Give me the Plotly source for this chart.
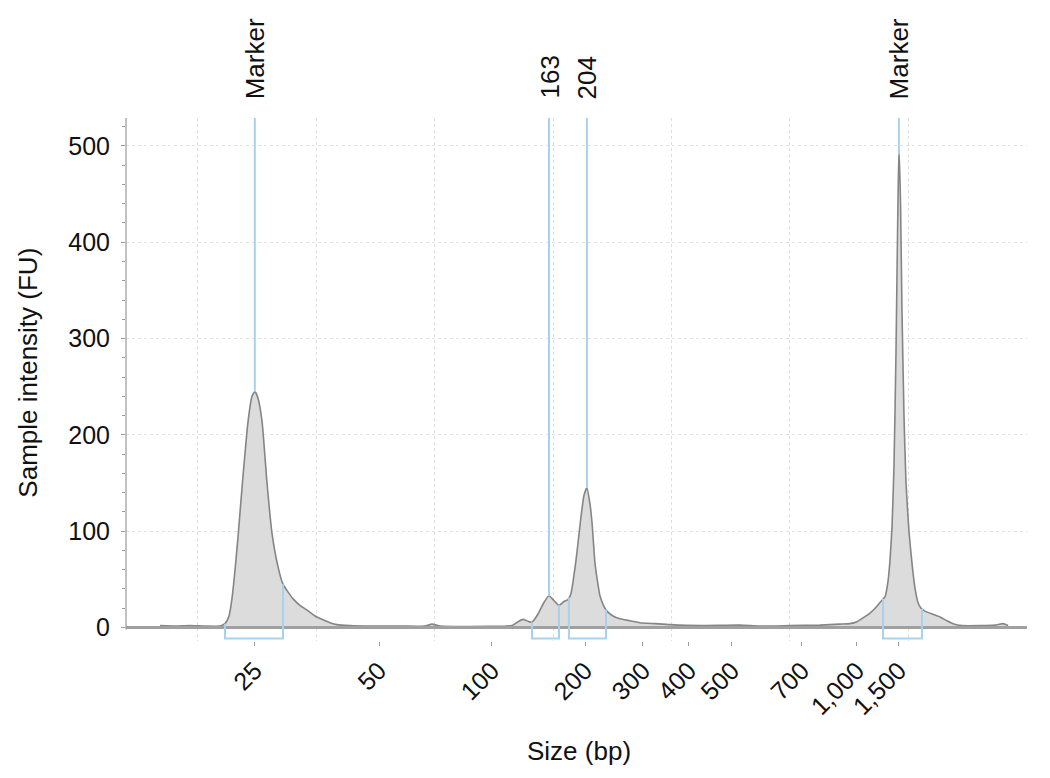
import numpy as np
import plotly.graph_objects as go

# electropherogram trace: migration time (s) vs sample intensity (FU)
mig_time = [6.79, 8.06, 9.32, 10.59, 11.86, 12.28, 12.62, 12.87, 13.13, 13.38,
            13.80, 14.22, 14.56, 14.81, 15.07, 15.41, 15.83, 16.25, 16.76, 17.18,
            17.60, 18.02, 18.61, 19.21, 19.88, 20.56, 21.15, 21.74, 22.84, 24.53,
            27.06, 29.17, 29.76, 30.44, 32.97, 35.93, 36.52, 37.03, 37.45, 37.87,
            38.21, 38.72, 39.22, 39.65, 40.07, 40.49, 40.91, 41.25, 41.50, 41.67,
            41.93, 42.10, 42.35, 42.60, 42.85, 43.11, 43.28, 43.53, 43.78, 43.95,
            44.29, 44.54, 45.05, 45.64, 46.49, 47.33, 48.60, 49.87, 52.40, 55.78,
            57.47, 60.00, 62.53, 64.22, 65.07, 65.66, 66.17, 66.76, 67.27, 67.60,
            68.03, 68.28, 68.45, 68.62, 68.79, 68.96, 69.13, 69.21, 69.34, 69.46,
            69.63, 69.80, 70.05, 70.32, 70.57, 70.81, 71.07, 71.40, 71.99, 72.67,
            73.26, 73.77, 74.53, 76.05, 77.32, 78.00, 78.42]
intensity = [2, 1.5, 2, 1.5, 1.5, 4, 12, 30, 60, 94,
             157, 213, 240, 245, 238, 214, 150, 98, 63, 45,
             37, 30, 23, 18, 12, 8, 5, 3, 2, 1.5,
             1.5, 1.5, 3.5, 1.5, 1, 1.5, 2, 6, 8.5, 6.5,
             5.5, 14, 26, 33, 28, 23, 27, 29, 35, 47,
             70, 88, 115, 137, 145, 128, 109, 67, 45, 33,
             22, 17, 12, 9, 7, 5, 4, 3, 2, 2.5,
             1.5, 2, 2.5, 3.5, 4, 6, 10, 15, 21, 26,
             32, 48, 70, 105, 170, 290, 450, 497, 440, 330,
             220, 150, 100, 65, 40, 26, 20, 17, 14, 11,
             7, 4, 2, 2, 2.5, 4, 2]

# size ladder (bp) and its migration times
ladder_size = ['25', '50', '100', '200', '300', '400', '500', '700', '1,000', '1,500']
ladder_time = [14.8, 25.29, 34.83, 42.69, 47.58, 51.47, 55.10, 61.01, 65.66, 69.2]

# called peaks
peak_label = ['Marker', '163', '204', 'Marker']
peak_time = [14.8, 39.65, 42.85, 69.2]
peak_start = [12.28, 38.21, 41.33, 67.86]
peak_end = [17.18, 40.49, 44.46, 71.15]

x_range = [3.92, 80.02]
y_range = [-14, 529]
bracket_floor = -11.4

blue = '#a9d1ec'
font = 'Liberation Sans, Arial, Helvetica, sans-serif'

fig = go.Figure()
fig.add_trace(go.Scatter(
    x=mig_time, y=intensity, mode='lines', fill='tozeroy',
    fillcolor='#dcdcdc', line=dict(color='#858585', width=1.6, shape='spline', smoothing=0.5),
    hoverinfo='skip', showlegend=False))

shapes = []
# baseline
shapes.append(dict(type='line', xref='paper', x0=0, x1=1, yref='y', y0=0, y1=0,
                   line=dict(color='#a0a0a0', width=3)))
# y axis line
shapes.append(dict(type='line', xref='paper', x0=0, x1=0, yref='y', y0=-2, y1=y_range[1],
                   line=dict(color='#9a9a9a', width=1.2)))

annotations = []
for lab, pt, ps, pe in zip(peak_label, peak_time, peak_start, peak_end):
    ytop = float(np.interp(pt, mig_time, intensity))
    shapes.append(dict(type='line', xref='x', yref='y', x0=pt, x1=pt,
                       y0=ytop, y1=y_range[1], line=dict(color=blue, width=2)))
    ys = float(np.interp(ps, mig_time, intensity))
    ye = float(np.interp(pe, mig_time, intensity))
    shapes.append(dict(type='path', xref='x', yref='y',
                       path=f'M {ps},{ys} L {ps},{bracket_floor} L {pe},{bracket_floor} L {pe},{ye}',
                       line=dict(color=blue, width=2)))
    annotations.append(dict(x=pt, y=1, xref='x', yref='paper', text=lab, textangle=-90,
                            showarrow=False, xanchor='center', yanchor='bottom', yshift=17,
                            font=dict(size=26, color='#111111', family=font)))

annotations.append(dict(x=-0.1088, y=0.513, xref='paper', yref='paper',
                        text='Sample intensity (FU)', textangle=-90, showarrow=False,
                        xanchor='center', yanchor='middle',
                        font=dict(size=26, color='#111111', family=font)))
annotations.append(dict(x=0.5028, y=-0.211, xref='paper', yref='paper',
                        text='Size (bp)', showarrow=False,
                        xanchor='center', yanchor='middle',
                        font=dict(size=26, color='#111111', family=font)))

# page body keeps its default 8px margin, so the figure is sized to sit inside it
fig.update_layout(
    width=1034, height=762,
    margin=dict(l=118, r=15, t=110, b=128.5),
    paper_bgcolor='white', plot_bgcolor='white',
    shapes=shapes, annotations=annotations,
    font=dict(family=font, size=25, color='#111111'),
    xaxis=dict(
        range=x_range, tickmode='array', tickvals=ladder_time, ticktext=ladder_size,
        tickangle=-45, ticks='outside', ticklen=4, tickcolor='#9a9a9a',
        showgrid=False, zeroline=False, showline=False,
        tickfont=dict(size=25, color='#111111'),
        minor=dict(tickmode='linear', tick0=0, dtick=10, showgrid=True,
                   gridcolor='#dedede', griddash='dot', gridwidth=1, ticks=''),
    ),
    yaxis=dict(
        range=y_range, tickmode='array', tickvals=[0, 100, 200, 300, 400, 500],
        ticks='outside', ticklen=4, tickcolor='#9a9a9a', ticklabelstandoff=6,
        showgrid=True, gridcolor='#e2e2e2', griddash='dot', gridwidth=1,
        zeroline=False, showline=False,
        tickfont=dict(size=25, color='#111111'),
        minor=dict(tickmode='linear', tick0=0, dtick=20, ticks='outside',
                   ticklen=3, tickcolor='#9a9a9a', showgrid=False),
    ),
)

fig.write_html('out.html')
